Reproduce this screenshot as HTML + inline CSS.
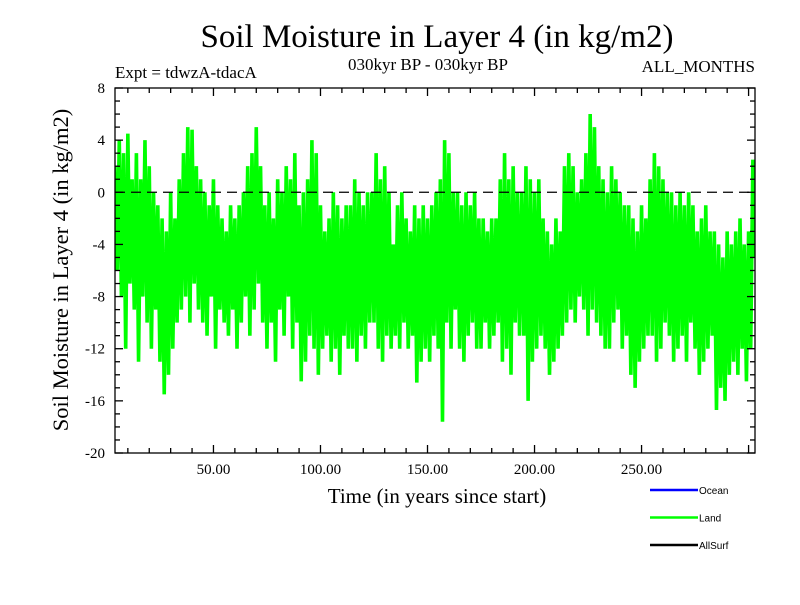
<!DOCTYPE html>
<html><head><meta charset="utf-8"><style>
body{margin:0;background:#fff}
svg text{font-family:"Liberation Serif",serif}
</style></head><body>
<svg id="c" width="800" height="600" xmlns="http://www.w3.org/2000/svg">
<rect width="800" height="600" fill="#fff"/>
<text x="437" y="47" font-size="33" text-anchor="middle">Soil Moisture in Layer 4 (in kg/m2)</text>
<text x="115" y="78" font-size="17">Expt = tdwzA-tdacA</text>
<text x="428" y="70" font-size="17" text-anchor="middle">030kyr BP - 030kyr BP</text>
<text x="755" y="72" font-size="17" text-anchor="end">ALL_MONTHS</text>
<text x="437" y="503" font-size="21" text-anchor="middle">Time (in years since start)</text>
<text transform="translate(68,270) rotate(-90)" font-size="22.5" text-anchor="middle">Soil Moisture in Layer 4 (in kg/m2)</text>
<defs><clipPath id="pc"><rect x="115" y="88" width="640" height="365"/></clipPath></defs>
<g id="series" clip-path="url(#pc)"></g>
<g id="axes"></g>
<g id="legend"></g>
</svg>
<script>
const yTicks=[8,4,0,-4,-8,-12,-16,-20];
const xTicks=[50,100,150,200,250];
const xTickLabels=["50.00","100.00","150.00","200.00","250.00"];
const legendNames=["Ocean","Land","AllSurf"];
const legendColors=["#0000ff","#00ff00","#000000"];
const landValues=[
2,-6,4,-8,3,-12,4.5,-7,1,-9,
3,-13,1,-8,4,-10,2,-12,0,-9,
-1,-13,-2,-15.5,-3,-14,0,-12,-2,-10,
1,-9,3,-8,5,-10,4.8,-7,2,-9,
1,-10,0,-11,-1,-8,1,-12,-1,-9,
-2,-10,-3,-11,-1,-9,-2,-12,-1,-10,
0,-8,2,-11,3,-9,5,-7,2,-10,
-1,-12,0,-10,-2,-13,1,-9,0,-11,
2,-8,1,-12,3,-10,-1,-14.5,0,-13,
1,-11,4,-12,3,-14,-1,-12,-3,-11,
-2,-13,0,-12,-1,-14,-2,-11,-1,-12,
-1,-12,1,-13,0,-11,-1,-12,0,-10,
0,-10,3,-12,1,-13,2,-11,0,-12,
-4,-11,-1,-12,0,-10,-2,-12,-3,-11,
-1,-14.6,-2,-13,-1,-12,-2,-13,-1,-11,
0,-12,1,-17.6,4,-10,3,-12,0,-9,
0,-12,-1,-13,0,-11,-1,-10,0,-12,
-2,-12,-2,-10,-3,-12,-2,-11,-2,-10,
1,-13,3,-12,1,-14,2,-10,0,-11,
0,-11,2,-16,1,-13,0,-12,1,-11,
-2,-12,-3,-14,-4,-13,-2,-12,-3,-11,
2,-10,3,-9,2,-10,0,-8,1,-9,
3,-11,6,-9,5,-10,2,-11,1,-12,
0,-12,2,-10,1,-9,0,-12,-1,-11,
-1,-14,-2,-15,-3,-13,-1,-12,-2,-11,
1,-11,3,-13,2,-12,1,-10,0,-11,
0,-13,-1,-12,0,-11,-1,-13,0,-10,
-1,-12,-3,-14,-2,-13,-1,-12,-3,-11,
-3,-16.7,-4,-15,-5,-16,-3,-14,-4,-13,
-3,-14,-2,-12,-4,-14.5,-3,-12,2.5,-5
];
const NS="http://www.w3.org/2000/svg";
const X0=4,X1=303,PX0=115,PX1=755,Y0=-20,Y1=8,PY0=453,PY1=88;
const sx=v=>PX0+(v-X0)/(X1-X0)*(PX1-PX0);
const sy=v=>PY0-(v-Y0)/(Y1-Y0)*(PY0-PY1);
function mk(t,a,p){const e=document.createElementNS(NS,t);for(const k in a)e.setAttribute(k,a[k]);p.appendChild(e);return e;}
const series=document.getElementById('series'),axes=document.getElementById('axes'),legend=document.getElementById('legend');
let d="";landValues.forEach((v,i)=>{d+=(i?"L":"M")+sx(X0+i).toFixed(2)+","+sy(v).toFixed(2);});
const ln=mk('path',{d:d,fill:"none",stroke:"#00ff00","stroke-width":3.6,"stroke-linejoin":"bevel"},series);


const zl=mk('line',{x1:PX0,x2:PX1,y1:sy(0),y2:sy(0),stroke:"#000","stroke-width":1.3,"stroke-dasharray":"10,6"},axes);


const fr=mk('rect',{x:PX0,y:PY1,width:PX1-PX0,height:PY0-PY1,fill:"none",stroke:"#000","stroke-width":1.3},axes);


for(let v=Y0;v<=Y1;v++){const y=sy(v),L=(v%4===0)?8:5;
mk('line',{x1:PX0,x2:PX0+L,y1:y,y2:y,stroke:"#000","stroke-width":1.3},axes);
mk('line',{x1:PX1,x2:PX1-L,y1:y,y2:y,stroke:"#000","stroke-width":1.3},axes);}
yTicks.forEach(v=>{const t=mk('text',{x:PX0-10,y:sy(v)+5,"font-size":15,"text-anchor":"end"},axes);t.textContent=v;

});
for(let v=10;v<X1;v+=10){const x=sx(v),L=(v%50===0)?8:5;
mk('line',{x1:x,x2:x,y1:PY0,y2:PY0-L,stroke:"#000","stroke-width":1.3},axes);
mk('line',{x1:x,x2:x,y1:PY1,y2:PY1+L,stroke:"#000","stroke-width":1.3},axes);}
xTicks.forEach((v,i)=>{const t=mk('text',{x:sx(v),y:PY0+21,"font-size":15,"text-anchor":"middle"},axes);t.textContent=xTickLabels[i];

});
legendNames.forEach((n,i)=>{const y=490+i*27.5;
const g=mk('g',{},legend);


mk('line',{x1:650,x2:698,y1:y,y2:y,stroke:legendColors[i],"stroke-width":2.5},g);
const t=mk('text',{x:699,y:y+4,"font-size":10,style:"font-family:'Liberation Sans',sans-serif"},g);t.textContent=n;});
</script>
</body></html>
